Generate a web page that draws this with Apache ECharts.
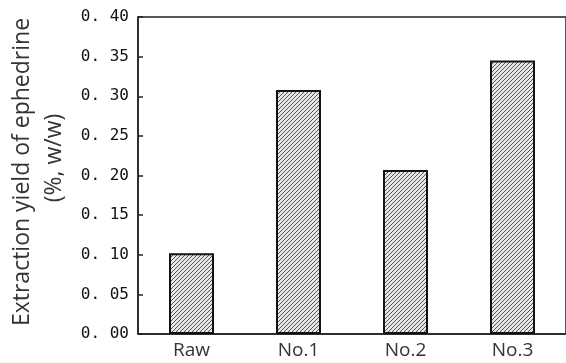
<!DOCTYPE html>
<html>
<head>
<meta charset="utf-8">
<script src="https://cdn.jsdelivr.net/npm/echarts@6/dist/echarts.min.js"></script>
<style>
  html, body { margin: 0; padding: 0; background: #fff; }
  #chart { width: 566px; height: 363px; }
</style>
</head>
<body>
<div id="chart"></div>
<script>
// data
var categories = ['Raw', 'No.1', 'No.2', 'No.3'];
var yieldValues = [0.102, 0.308, 0.207, 0.345];
var yTitle = ['Extraction yield of ephedrine', '(%, w/w)'];

// hatch pattern for the bars
function makeHatch() {
  var c = document.createElement('canvas');
  c.width = 4; c.height = 4;
  var ctx = c.getContext('2d');
  ctx.fillStyle = '#e6e6e6';
  ctx.fillRect(0, 0, 4, 4);
  ctx.strokeStyle = '#555';
  ctx.lineWidth = 1;
  ctx.beginPath();
  ctx.moveTo(0, 4); ctx.lineTo(4, 0);
  ctx.moveTo(-1, 1); ctx.lineTo(1, -1);
  ctx.moveTo(3, 5); ctx.lineTo(5, 3);
  ctx.stroke();
  return c;
}

var chart = echarts.init(document.getElementById('chart'));
chart.setOption({
  animation: false,
  grid: {
    left: 138, top: 17, width: 436, bottom: 29,
    show: true, borderColor: '#222', borderWidth: 1.5
  },
  xAxis: {
    type: 'category',
    data: categories,
    axisLine: { lineStyle: { color: '#222', width: 1.5 } },
    axisTick: { inside: true, length: 5, lineStyle: { color: '#222', width: 1.5 } },
    axisLabel: { color: '#333', fontFamily: 'Open Sans', fontSize: 19, margin: 7 }
  },
  yAxis: {
    type: 'value',
    min: 0, max: 0.4, interval: 0.05,
    splitLine: { show: false },
    axisLine: { show: true, lineStyle: { color: '#222', width: 1.5 } },
    axisTick: { show: true, inside: true, length: 5, lineStyle: { color: '#222', width: 1.5 } },
    axisLabel: {
      color: '#111', fontFamily: 'DejaVu Sans Mono', fontSize: 16, margin: 9,
      formatter: function (v) { return v.toFixed(2).replace('.', '. '); }
    }
  },
  graphic: [
    {
      type: 'text', x: 22, y: 172, rotation: Math.PI / 2,
      style: { text: yTitle[0], font: '23px "Open Sans"', fill: '#333', align: 'center', verticalAlign: 'middle' }
    },
    {
      type: 'text', x: 54, y: 158, rotation: Math.PI / 2,
      style: { text: yTitle[1], font: '23px "Open Sans"', fill: '#333', align: 'center', verticalAlign: 'middle' }
    }
  ],
  series: [{
    type: 'bar',
    data: yieldValues,
    barWidth: 45,
    itemStyle: {
      color: { image: makeHatch(), repeat: 'repeat' },
      borderColor: '#111', borderWidth: 2
    }
  }]
});
</script>
</body>
</html>
